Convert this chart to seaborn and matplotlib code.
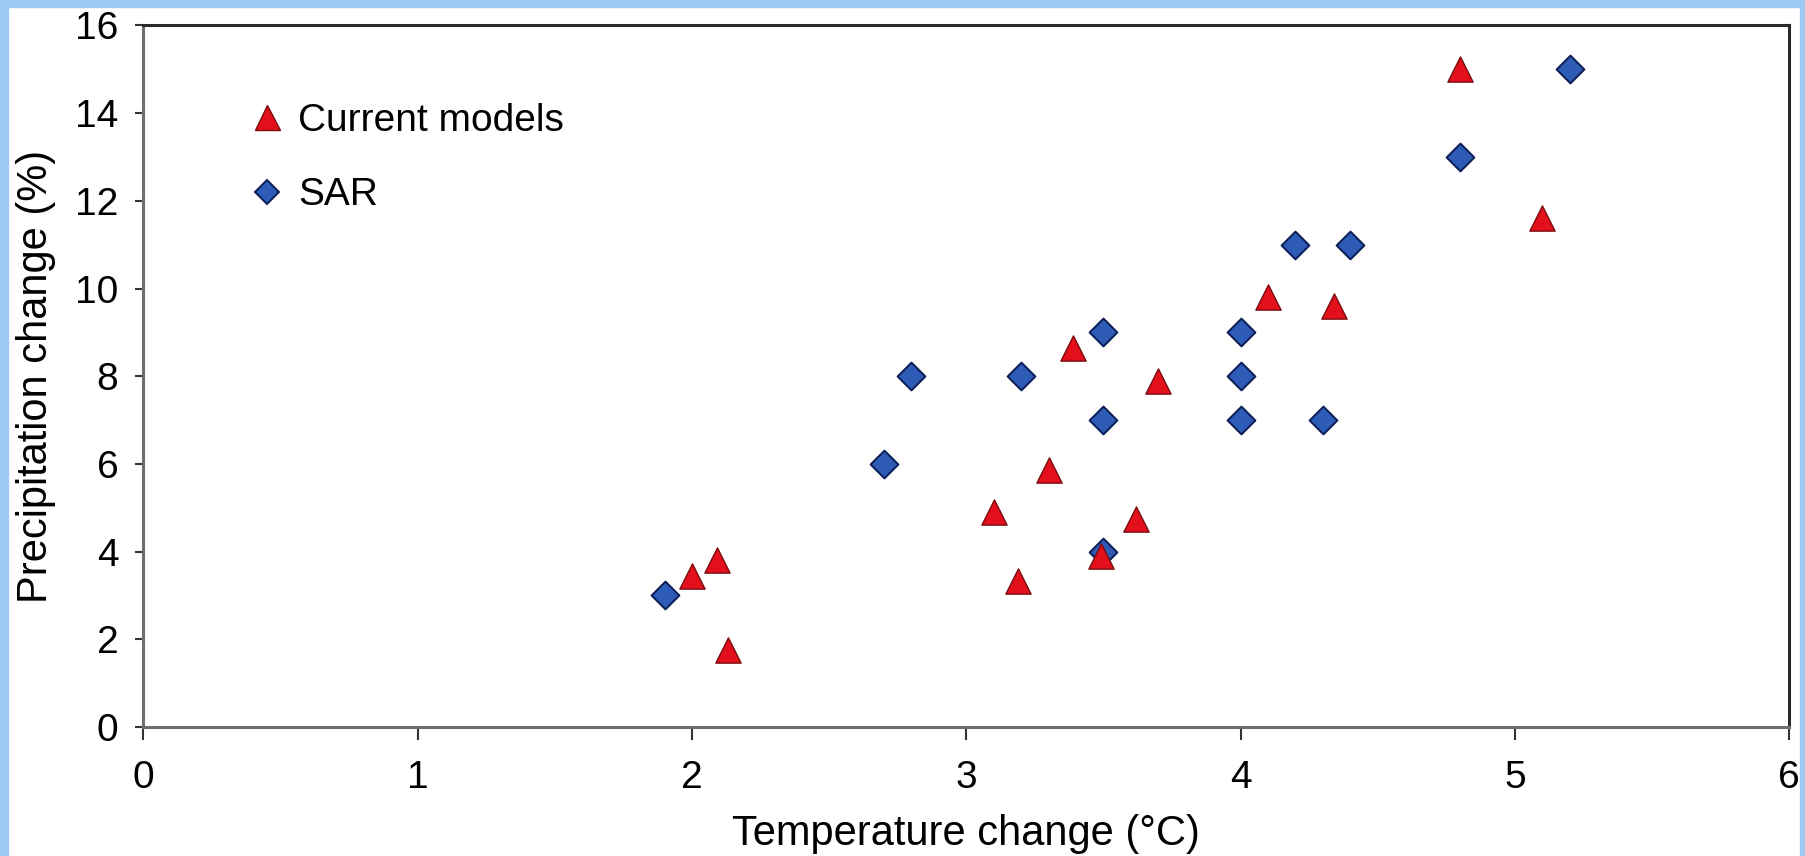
import matplotlib
matplotlib.use("Agg")
import matplotlib.pyplot as plt
from matplotlib.patches import Rectangle
from matplotlib.lines import Line2D
import seaborn as sns
import pandas as pd

# ---- data ----
current_x = [2.00, 2.09, 2.13, 3.10, 3.19, 3.30, 3.39, 3.49, 3.62, 3.70, 4.10, 4.34, 4.80, 5.10]
current_y = [3.45, 3.80, 1.75, 4.90, 3.33, 5.87, 8.65, 3.90, 4.75, 7.90, 9.80, 9.60, 15.0, 11.6]
sar_x = [1.9, 2.7, 2.8, 3.2, 3.5, 3.5, 3.5, 4.0, 4.0, 4.0, 4.3, 4.2, 4.4, 4.8, 5.2]
sar_y = [3, 6, 8, 8, 9, 7, 4, 9, 8, 7, 7, 11, 11, 13, 15]
x_ticks = [0, 1, 2, 3, 4, 5, 6]
y_ticks = [0, 2, 4, 6, 8, 10, 12, 14, 16]

sar = pd.DataFrame({"temp": sar_x, "precip": sar_y})
cur = pd.DataFrame({"temp": current_x, "precip": current_y})

sns.set_theme(style="white")
plt.rcParams["font.family"] = ["Liberation Sans", "DejaVu Sans"]
plt.rcParams["text.color"] = "black"
plt.rcParams["axes.labelcolor"] = "black"
plt.rcParams["xtick.labelcolor"] = "black"
plt.rcParams["ytick.labelcolor"] = "black"

fig = plt.figure(figsize=(18.06, 8.56), dpi=100)
fig.patch.set_facecolor("white")
# light blue frame of the slide
fig.patches.append(Rectangle((0, 0), 8 / 1806, 1, transform=fig.transFigure, color="#9ccaf2", zorder=0))
fig.patches.append(Rectangle((0, 1 - 7 / 856), 1, 7 / 856, transform=fig.transFigure, color="#9ccaf2", zorder=0))
fig.patches.append(Rectangle((1 - 6 / 1806, 0), 6 / 1806, 1, transform=fig.transFigure, color="#9ccaf2", zorder=0))

ax = fig.add_axes([0.0794, 0.1507, 0.9113, 0.8196])

RED, RED_EDGE = "#e3101c", "#7a0c10"
BLUE, BLUE_EDGE = "#2e5bb5", "#0b1d55"

sns.scatterplot(data=sar, x="temp", y="precip", marker="D", s=200, color=BLUE,
                edgecolor=BLUE_EDGE, linewidth=1.4, ax=ax, zorder=3)
sns.scatterplot(data=cur, x="temp", y="precip", marker="^", s=330, color=RED,
                edgecolor=RED_EDGE, linewidth=1.0, ax=ax, zorder=4)

ax.set_xlim(0, 6)
ax.set_ylim(0, 16)
ax.set_xticks(x_ticks)
ax.set_yticks(y_ticks)
ax.set_xticklabels([str(t) for t in x_ticks])
ax.set_yticklabels([str(t) for t in y_ticks])

ax.set_xlabel("Temperature change (°C)", fontsize=30, labelpad=13)
ax.set_ylabel("Precipitation change (%)", fontsize=30, labelpad=14)
ax.tick_params(axis="x", direction="out", length=9, width=1.5, pad=15,
               labelsize=28, color="#333333", bottom=True)
ax.tick_params(axis="y", direction="out", length=6, width=1.5, pad=12,
               labelsize=28, color="#333333", left=True)

for side in ["left", "bottom"]:
    ax.spines[side].set_color("#6f6f6f")
    ax.spines[side].set_linewidth(2.2)
for side in ["top", "right"]:
    ax.spines[side].set_color("#2a2a2a")
    ax.spines[side].set_linewidth(2.2)

handles = [
    Line2D([], [], marker="^", linestyle="none", markersize=18, markerfacecolor=RED,
           markeredgecolor=RED_EDGE, markeredgewidth=1.0),
    Line2D([], [], marker="D", linestyle="none", markersize=12, markerfacecolor=BLUE,
           markeredgecolor=BLUE_EDGE, markeredgewidth=1.4),
]
ax.legend(handles, ["Current models", "SAR"], loc="upper left", bbox_to_anchor=(0.042, 0.94),
          frameon=False, fontsize=28, handlelength=1.0, handletextpad=0.3, labelspacing=1.0)

fig.savefig("out.png", dpi=100)
